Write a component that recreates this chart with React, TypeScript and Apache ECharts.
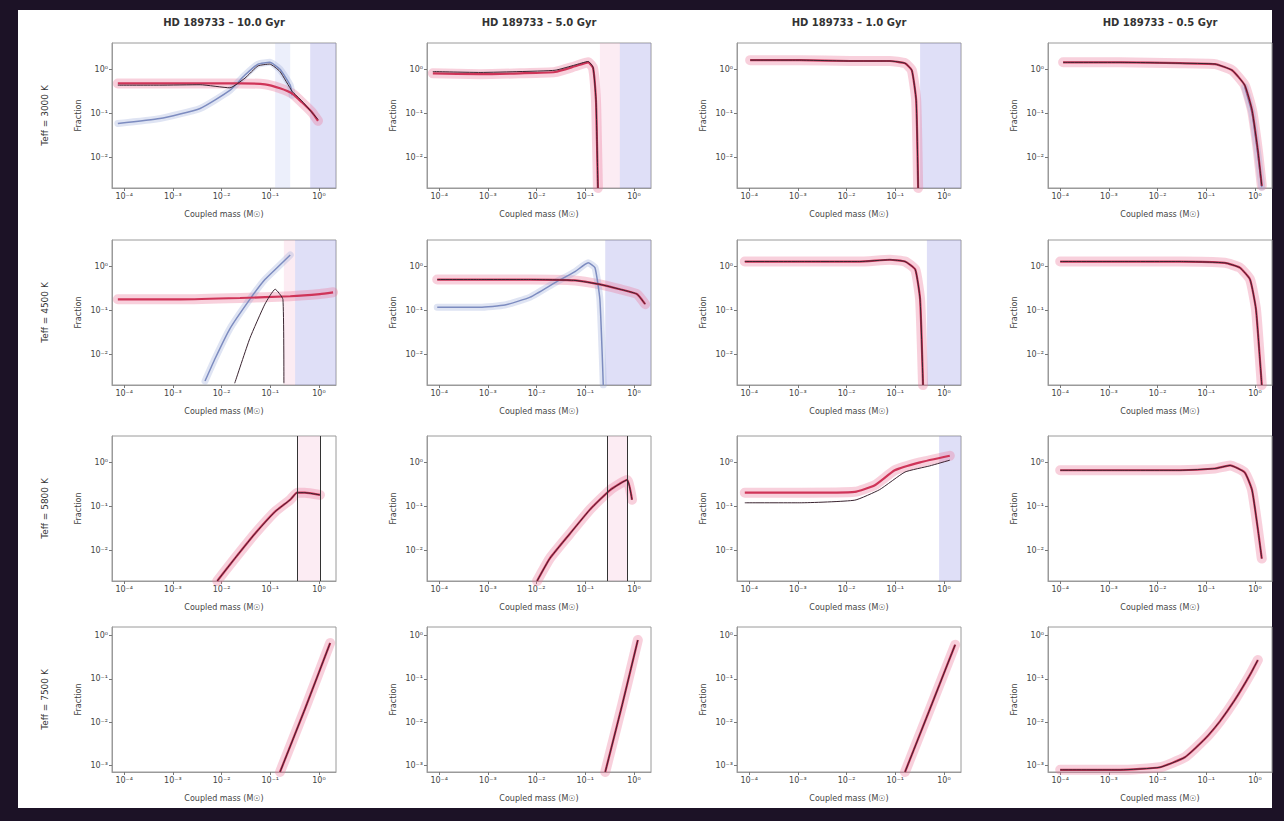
import React, { useEffect, useRef } from "react";
import * as echarts from "echarts";

type Pt = [number, number];

const columnTitles = ["HD 189733 – 10.0 Gyr", "HD 189733 – 5.0 Gyr", "HD 189733 – 1.0 Gyr", "HD 189733 – 0.5 Gyr"];
const rowLabels = ["Teff = 3000 K", "Teff = 4500 K", "Teff = 5800 K", "Teff = 7500 K"];
const yAxisName = "Fraction";
const xAxisName = "Coupled mass (M☉)";
const xTickValues = [-4, -3, -2, -1, 0];
const xTickLabels = ["10⁻⁴", "10⁻³", "10⁻²", "10⁻¹", "10⁰"];
const yTicksUpper = [-2, -1, 0];
const yTickLabelsUpper = ["10⁻²", "10⁻¹", "10⁰"];
const yTicksLower = [-3, -2, -1, 0];
const yTickLabelsLower = ["10⁻³", "10⁻²", "10⁻¹", "10⁰"];

// Row 1
const r1c1Red: Pt[] = [[-4.13, -0.32], [-3.27, -0.32], [-2.44, -0.32], [-1.62, -0.32], [-1.11, -0.34], [-0.8, -0.43], [-0.55, -0.55], [-0.35, -0.75], [-0.14, -0.98], [-0.02, -1.17]];
const r1c1Blue: Pt[] = [[-4.13, -1.23], [-3.27, -1.12], [-2.44, -0.89], [-1.83, -0.48], [-1.52, -0.13], [-1.25, 0.12], [-1.01, 0.16], [-0.8, 0.0], [-0.59, -0.36], [-0.55, -0.59]];
const r1c1Black: Pt[] = [[-4.13, -0.36], [-3.27, -0.36], [-2.44, -0.35], [-1.83, -0.42], [-1.52, -0.2], [-1.25, 0.08], [-1.01, 0.12], [-0.8, -0.05], [-0.55, -0.5], [-0.35, -0.72], [-0.02, -1.14]];
const r1c2Red: Pt[] = [[-4.13, -0.09], [-3.16, -0.11], [-2.34, -0.09], [-1.62, -0.06], [-1.21, 0.07], [-0.94, 0.16], [-0.84, 0.03], [-0.78, -0.71], [-0.76, -1.62], [-0.74, -2.7]];
const r1c2Black: Pt[] = [[-4.13, -0.05], [-3.16, -0.07], [-2.34, -0.05], [-1.62, -0.02], [-1.21, 0.1], [-0.94, 0.18], [-0.84, 0.05], [-0.78, -0.68], [-0.76, -1.6], [-0.74, -2.7]];
const r1c3Red: Pt[] = [[-3.98, 0.21], [-2.96, 0.21], [-1.93, 0.19], [-1.11, 0.19], [-0.8, 0.14], [-0.66, -0.02], [-0.57, -0.71], [-0.53, -2.7]];
const r1c4Red: Pt[] = [[-3.94, 0.16], [-2.77, 0.16], [-1.54, 0.14], [-0.82, 0.12], [-0.47, -0.02], [-0.21, -0.36], [-0.06, -0.93], [0.06, -1.85], [0.14, -2.65]];
const r1c4Blue: Pt[] = [[-0.21, -0.4], [-0.06, -1.0], [0.06, -1.95], [0.14, -2.68]];

// Row 2
const r2c1Red: Pt[] = [[-4.13, -0.75], [-2.85, -0.75], [-1.62, -0.72], [-0.59, -0.68], [0.02, -0.63], [0.29, -0.59]];
const r2c1Blue: Pt[] = [[-2.34, -2.61], [-2.13, -2.09], [-1.83, -1.42], [-1.42, -0.75], [-1.11, -0.3], [-0.86, -0.03], [-0.59, 0.26]];
const r2c1Black: Pt[] = [[-1.73, -2.66], [-1.42, -1.64], [-1.11, -0.86], [-0.9, -0.52], [-0.74, -0.75], [-0.72, -2.66]];
const r2c2Red: Pt[] = [[-4.04, -0.3], [-3.16, -0.3], [-2.13, -0.3], [-1.21, -0.32], [-0.7, -0.41], [-0.29, -0.52], [0.06, -0.63], [0.23, -0.86]];
const r2c2Blue: Pt[] = [[-4.04, -0.93], [-3.16, -0.93], [-2.65, -0.88], [-2.13, -0.7], [-1.62, -0.37], [-1.21, -0.12], [-0.94, 0.08], [-0.8, -0.03], [-0.7, -0.75], [-0.63, -2.7]];
const r2c3Red: Pt[] = [[-4.09, 0.11], [-2.96, 0.11], [-1.73, 0.11], [-1.11, 0.15], [-0.8, 0.11], [-0.59, -0.07], [-0.49, -0.75], [-0.43, -2.7]];
const r2c4Red: Pt[] = [[-4.0, 0.11], [-2.77, 0.11], [-1.54, 0.11], [-0.62, 0.08], [-0.31, -0.03], [-0.1, -0.3], [0.02, -0.97], [0.1, -2.09], [0.14, -2.7]];

// Row 3
const r3c1Red: Pt[] = [[-2.09, -2.7], [-1.73, -2.19], [-1.32, -1.63], [-0.9, -1.12], [-0.59, -0.85], [-0.45, -0.69], [-0.29, -0.69], [0.02, -0.74]];
const r3c2Red: Pt[] = [[-1.99, -2.7], [-1.73, -2.19], [-1.32, -1.63], [-0.9, -1.07], [-0.49, -0.63], [-0.14, -0.4], [-0.04, -0.85]];
const r3c3Red: Pt[] = [[-4.09, -0.69], [-2.96, -0.69], [-1.83, -0.67], [-1.42, -0.52], [-1.01, -0.18], [-0.49, 0.0], [0.12, 0.15]];
const r3c3Black: Pt[] = [[-4.09, -0.92], [-2.96, -0.92], [-1.83, -0.86], [-1.32, -0.62], [-0.8, -0.22], [-0.29, -0.08], [0.12, 0.05]];
const r3c4Red: Pt[] = [[-4.0, -0.18], [-2.77, -0.18], [-1.54, -0.18], [-0.82, -0.14], [-0.51, -0.07], [-0.21, -0.23], [-0.06, -0.63], [0.06, -1.52], [0.14, -2.19]];

// Row 4
const r4c1Red: Pt[] = [[-0.8, -3.15], [-0.29, -1.7], [0.23, -0.17]];
const r4c2Red: Pt[] = [[-0.59, -3.15], [-0.24, -1.59], [0.08, -0.1]];
const r4c3Red: Pt[] = [[-0.8, -3.15], [-0.29, -1.7], [0.23, -0.21]];
const r4c4Red: Pt[] = [[-4.0, -3.1], [-2.77, -3.1], [-1.95, -3.04], [-1.44, -2.81], [-1.03, -2.39], [-0.72, -1.98], [-0.41, -1.48], [-0.1, -0.9], [0.06, -0.56]];

// Shaded x-ranges per panel: [start, end, kind]
const r1c1Shade: [number, number, string][] = [[-0.9, -0.59, "light"], [-0.18, 0.35, "blue"]];
const r1c2Shade: [number, number, string][] = [[-0.7, -0.29, "pink"], [-0.29, 0.35, "blue"]];
const r1c3Shade: [number, number, string][] = [[-0.49, 0.35, "blue"]];
const r2c1Shade: [number, number, string][] = [[-0.72, -0.49, "pink"], [-0.49, 0.35, "blue"]];
const r2c2Shade: [number, number, string][] = [[-0.59, 0.35, "blue"]];
const r2c3Shade: [number, number, string][] = [[-0.35, 0.35, "blue"]];
const r3c1Shade: [number, number, string][] = [[-0.45, 0.02, "pink"]];
const r3c2Shade: [number, number, string][] = [[-0.55, -0.14, "pink"]];
const r3c3Shade: [number, number, string][] = [[-0.1, 0.35, "blue"]];

const r3c1Vlines = [-0.45, 0.02];
const r3c2Vlines = [-0.55, -0.14];

const colLefts = [112, 427, 737, 1048];
const rowTops = [43, 240, 436, 627];
const PW = 224;
const PH = 145;

type Panel = { red: Pt[]; blue?: Pt[]; black?: Pt[]; shade?: [number, number, string][]; vlines?: number[] };

const panels: Panel[][] = [
  [
    { red: r1c1Red, blue: r1c1Blue, black: r1c1Black, shade: r1c1Shade },
    { red: r1c2Red, black: r1c2Black, shade: r1c2Shade },
    { red: r1c3Red, black: r1c3Red, shade: r1c3Shade },
    { red: r1c4Red, blue: r1c4Blue, black: r1c4Red },
  ],
  [
    { red: r2c1Red, blue: r2c1Blue, black: r2c1Black, shade: r2c1Shade },
    { red: r2c2Red, blue: r2c2Blue, black: r2c2Red, shade: r2c2Shade },
    { red: r2c3Red, black: r2c3Red, shade: r2c3Shade },
    { red: r2c4Red, black: r2c4Red },
  ],
  [
    { red: r3c1Red, black: r3c1Red, shade: r3c1Shade, vlines: r3c1Vlines },
    { red: r3c2Red, black: r3c2Red, shade: r3c2Shade, vlines: r3c2Vlines },
    { red: r3c3Red, black: r3c3Black, shade: r3c3Shade },
    { red: r3c4Red, black: r3c4Red },
  ],
  [
    { red: r4c1Red, black: r4c1Red },
    { red: r4c2Red, black: r4c2Red },
    { red: r4c3Red, black: r4c3Red },
    { red: r4c4Red, black: r4c4Red },
  ],
];

const shadeColor: Record<string, string> = {
  blue: "rgba(140,140,225,0.28)",
  light: "rgba(170,180,235,0.22)",
  pink: "rgba(240,170,200,0.22)",
};

export default function App() {
  const ref = useRef<HTMLDivElement>(null);
  useEffect(() => {
    if (!ref.current) return;
    const chart = echarts.init(ref.current, undefined, { renderer: "svg" });
    const grids: any[] = [];
    const xAxes: any[] = [];
    const yAxes: any[] = [];
    const series: any[] = [];
    const graphics: any[] = [
      { type: "rect", z: -100, shape: { x: 18, y: 10, width: 1254, height: 798 }, style: { fill: "#ffffff" } },
    ];
    const font = "DejaVu Sans";
    let idx = 0;
    for (let r = 0; r < 4; r++) {
      const lower = r === 3;
      const yMin = lower ? -3.15 : -2.7;
      const yMax = lower ? 0.2 : 0.6;
      const yt = lower ? yTicksLower : yTicksUpper;
      const ytl = lower ? yTickLabelsLower : yTickLabelsUpper;
      for (let c = 0; c < 4; c++) {
        const p = panels[r][c];
        grids.push({
          left: colLefts[c], top: rowTops[r], width: PW, height: PH,
          show: true, borderColor: "#9a9a9a", borderWidth: 1, backgroundColor: "transparent",
        });
        xAxes.push({
          type: "value", gridIndex: idx, min: -4.25, max: 0.35,
          name: xAxisName, nameLocation: "middle", nameGap: 22,
          nameTextStyle: { fontSize: 8, color: "#444", fontFamily: font },
          axisLine: { show: true, onZero: false, lineStyle: { color: "#9a9a9a" } },
          axisTick: { show: true, customValues: xTickValues, length: 3, lineStyle: { color: "#777" } },
          axisLabel: {
            customValues: xTickValues, fontSize: 8, color: "#444", fontFamily: font, margin: 4,
            formatter: (v: number) => xTickLabels[xTickValues.indexOf(Math.round(v))] ?? "",
          },
          splitLine: { show: false },
        });
        yAxes.push({
          type: "value", gridIndex: idx, min: yMin, max: yMax,
          name: yAxisName, nameLocation: "middle", nameGap: 30, nameRotate: 90,
          nameTextStyle: { fontSize: 8, color: "#444", fontFamily: font },
          axisLine: { show: true, onZero: false, lineStyle: { color: "#9a9a9a" } },
          axisTick: { show: true, customValues: yt, length: 3, lineStyle: { color: "#777" } },
          axisLabel: {
            customValues: yt, fontSize: 8, color: "#444", fontFamily: font, margin: 4,
            formatter: (v: number) => ytl[yt.indexOf(Math.round(v))] ?? "",
          },
          splitLine: { show: false },
        });
        const shadeData = (p.shade || []).map(([a, b, k]) => [
          { xAxis: a, itemStyle: { color: shadeColor[k] } },
          { xAxis: b },
        ]);
        const vlineData = (p.vlines || []).map((v) => ({ xAxis: v }));
        // red band
        series.push({
          type: "line", xAxisIndex: idx, yAxisIndex: idx, data: p.red, showSymbol: false, smooth: 0.15,
          lineStyle: { color: "rgba(236,120,155,0.35)", width: 10, cap: "round", join: "round" },
          silent: true, z: 1,
          markArea: shadeData.length ? { silent: true, data: shadeData } : undefined,
          markLine: vlineData.length
            ? { silent: true, symbol: "none", label: { show: false }, lineStyle: { color: "#333", width: 1, type: "solid" }, data: vlineData }
            : undefined,
        });
        if (p.blue) {
          series.push({
            type: "line", xAxisIndex: idx, yAxisIndex: idx, data: p.blue, showSymbol: false, smooth: 0.15,
            lineStyle: { color: "rgba(150,165,215,0.3)", width: 7, cap: "round", join: "round" },
            silent: true, z: 2,
          });
          series.push({
            type: "line", xAxisIndex: idx, yAxisIndex: idx, data: p.blue, showSymbol: false, smooth: 0.15,
            lineStyle: { color: "#7d8cc0", width: 1.5 }, silent: true, z: 3,
          });
        }
        series.push({
          type: "line", xAxisIndex: idx, yAxisIndex: idx, data: p.red, showSymbol: false, smooth: 0.15,
          lineStyle: { color: "#cf3458", width: 2.2 }, silent: true, z: 4,
        });
        if (p.black) {
          series.push({
            type: "line", xAxisIndex: idx, yAxisIndex: idx, data: p.black, showSymbol: false, smooth: 0.15,
            lineStyle: { color: "#3a2430", width: 1 }, silent: true, z: 5,
          });
        }
        idx++;
      }
    }
    for (let c = 0; c < 4; c++) {
      graphics.push({
        type: "text", x: colLefts[c] + PW / 2, y: 22,
        style: { text: columnTitles[c], fontSize: 10, fontWeight: "bold", fill: "#333", align: "center", verticalAlign: "middle", fontFamily: font },
      });
    }
    for (let r = 0; r < 4; r++) {
      graphics.push({
        type: "text", x: 45, y: rowTops[r] + PH / 2, rotation: Math.PI / 2,
        style: { text: rowLabels[r], fontSize: 9, fill: "#333", align: "center", verticalAlign: "middle", fontFamily: font },
      });
    }
    chart.setOption({
      animation: false,
      backgroundColor: "#1c1226",
      grid: grids,
      xAxis: xAxes,
      yAxis: yAxes,
      series,
      graphic: graphics,
    });
    return () => chart.dispose();
  }, []);
  return <div ref={ref} style={{ position: "absolute", left: 0, top: 0, width: 1284, height: 821 }} />;
}
